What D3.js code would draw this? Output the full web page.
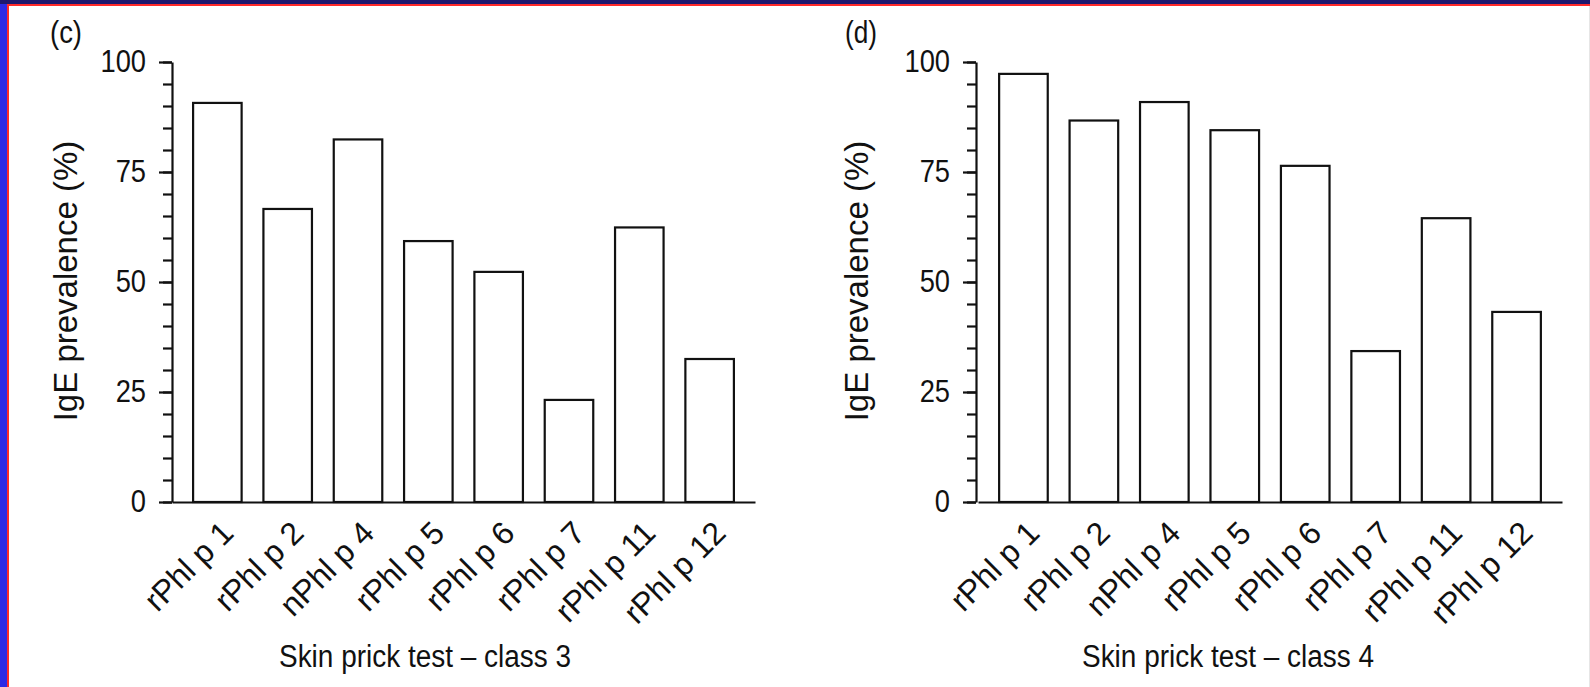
<!DOCTYPE html>
<html>
<head>
<meta charset="utf-8">
<script src="https://cdn.jsdelivr.net/npm/d3@7"></script>
<style>
  body { margin: 0; background: #fff; }
  svg text { font-family: "Liberation Sans", Arial, sans-serif; fill: #111; }
</style>
</head>
<body>
<script>
//Width and height
var w = 1590;
var h = 687;

//Categories and values
var allergens = ["rPhl p 1", "rPhl p 2", "nPhl p 4", "rPhl p 5", "rPhl p 6", "rPhl p 7", "rPhl p 11", "rPhl p 12"];
var class3 = [90.7, 66.6, 82.4, 59.3, 52.3, 23.2, 62.4, 32.5];
var class4 = [97.3, 86.7, 90.9, 84.5, 76.4, 34.3, 64.5, 43.2];
var majorTicks = [0, 25, 50, 75, 100];
var minorTicks = d3.range(0, 101, 5);

var panels = [
  { letter: "(c)", title: "Skin prick test \u2013 class 3", values: class3, axisX: 172, x0: 172, x1: 755, titleX: 425, letterX: 50, labelX: 77 },
  { letter: "(d)", title: "Skin prick test \u2013 class 4", values: class4, axisX: 976, x0: 978, x1: 1562, titleX: 1228, letterX: 845, labelX: 868 }
];

//Create SVG element
var svg = d3.select("body")
            .append("svg")
            .attr("width", w)
            .attr("height", h);

//Slide frame
svg.append("rect").attr("x", 0).attr("y", 0).attr("width", w).attr("height", h).attr("fill", "#fff");
svg.append("rect").attr("x", 0).attr("y", 0).attr("width", 8).attr("height", h).attr("fill", "#2d2ae6");
svg.append("rect").attr("x", 0).attr("y", 0).attr("width", w).attr("height", 4).attr("fill", "#1e186e");
svg.append("rect").attr("x", 8).attr("y", 4).attr("width", w - 8).attr("height", 2).attr("fill", "#ff2a2a");
svg.append("rect").attr("x", 7).attr("y", 4).attr("width", 2).attr("height", h - 4).attr("fill", "#ff2a2a");
svg.append("rect").attr("x", w - 1).attr("y", 6).attr("width", 1).attr("height", h - 6).attr("fill", "#e6e6e6");

//Shared y scale
var y = d3.scaleLinear().domain([0, 100]).range([502, 62]);

panels.forEach(function(p) {
    var x = d3.scaleBand()
              .domain(allergens)
              .range([p.x0, p.x1])
              .paddingInner(0.31)
              .paddingOuter(0.3);

    var g = svg.append("g");

    //Bars
    g.selectAll("rect.bar")
     .data(p.values)
     .enter()
     .append("rect")
     .attr("class", "bar")
     .attr("x", function(d, i) { return x(allergens[i]); })
     .attr("y", function(d) { return y(d); })
     .attr("width", x.bandwidth())
     .attr("height", function(d) { return y(0) - y(d); })
     .attr("fill", "#fff")
     .attr("stroke", "#111")
     .attr("stroke-width", 2.2);

    //Minor ticks
    g.append("g")
     .attr("transform", "translate(" + p.axisX + ",0)")
     .call(d3.axisLeft(y).tickValues(minorTicks).tickSize(9).tickFormat(""))
     .call(function(a) { a.select(".domain").remove(); })
     .selectAll("line").attr("stroke", "#111").attr("stroke-width", 2.2);

    //Major ticks and labels
    var ya = g.append("g")
     .attr("transform", "translate(" + p.axisX + ",0)")
     .call(d3.axisLeft(y).tickValues(majorTicks).tickSize(13).tickSizeOuter(0).tickPadding(13));
    ya.select(".domain").attr("stroke", "#111").attr("stroke-width", 2.2);
    ya.selectAll("line").attr("stroke", "#111").attr("stroke-width", 2.2);
    ya.selectAll("text")
      .attr("font-size", 31)
      .attr("font-family", "Liberation Sans")
      .attr("fill", "#111")
      .each(function() {
          //slightly condensed digits, as in the original
          var len = this.getComputedTextLength();
          d3.select(this).attr("textLength", len * 0.88).attr("lengthAdjust", "spacingAndGlyphs");
      });

    //X axis
    var xa = g.append("g")
     .attr("transform", "translate(0," + y(0) + ")")
     .call(d3.axisBottom(x).tickSize(0).tickSizeOuter(0));
    xa.select(".domain").attr("stroke", "#111").attr("stroke-width", 2.2);
    xa.selectAll("text")
      .attr("font-size", 32)
      .attr("font-family", "Liberation Sans")
      .attr("fill", "#111")
      .attr("text-anchor", "end")
      .attr("dy", null)
      .attr("y", null)
      .attr("transform", "translate(18,33) rotate(-45)");

    //Titles
    g.append("text")
     .attr("x", p.titleX)
     .attr("y", 667)
     .attr("text-anchor", "middle")
     .attr("font-size", 31)
     .attr("textLength", 292)
     .attr("lengthAdjust", "spacingAndGlyphs")
     .text(p.title);

    g.append("text")
     .attr("transform", "translate(" + p.labelX + ",281) rotate(-90)")
     .attr("text-anchor", "middle")
     .attr("font-size", 33)
     .text("IgE prevalence (%)");

    g.append("text")
     .attr("x", p.letterX)
     .attr("y", 43)
     .attr("font-size", 31)
     .attr("textLength", 32)
     .attr("lengthAdjust", "spacingAndGlyphs")
     .text(p.letter);
});
</script>
</body>
</html>
